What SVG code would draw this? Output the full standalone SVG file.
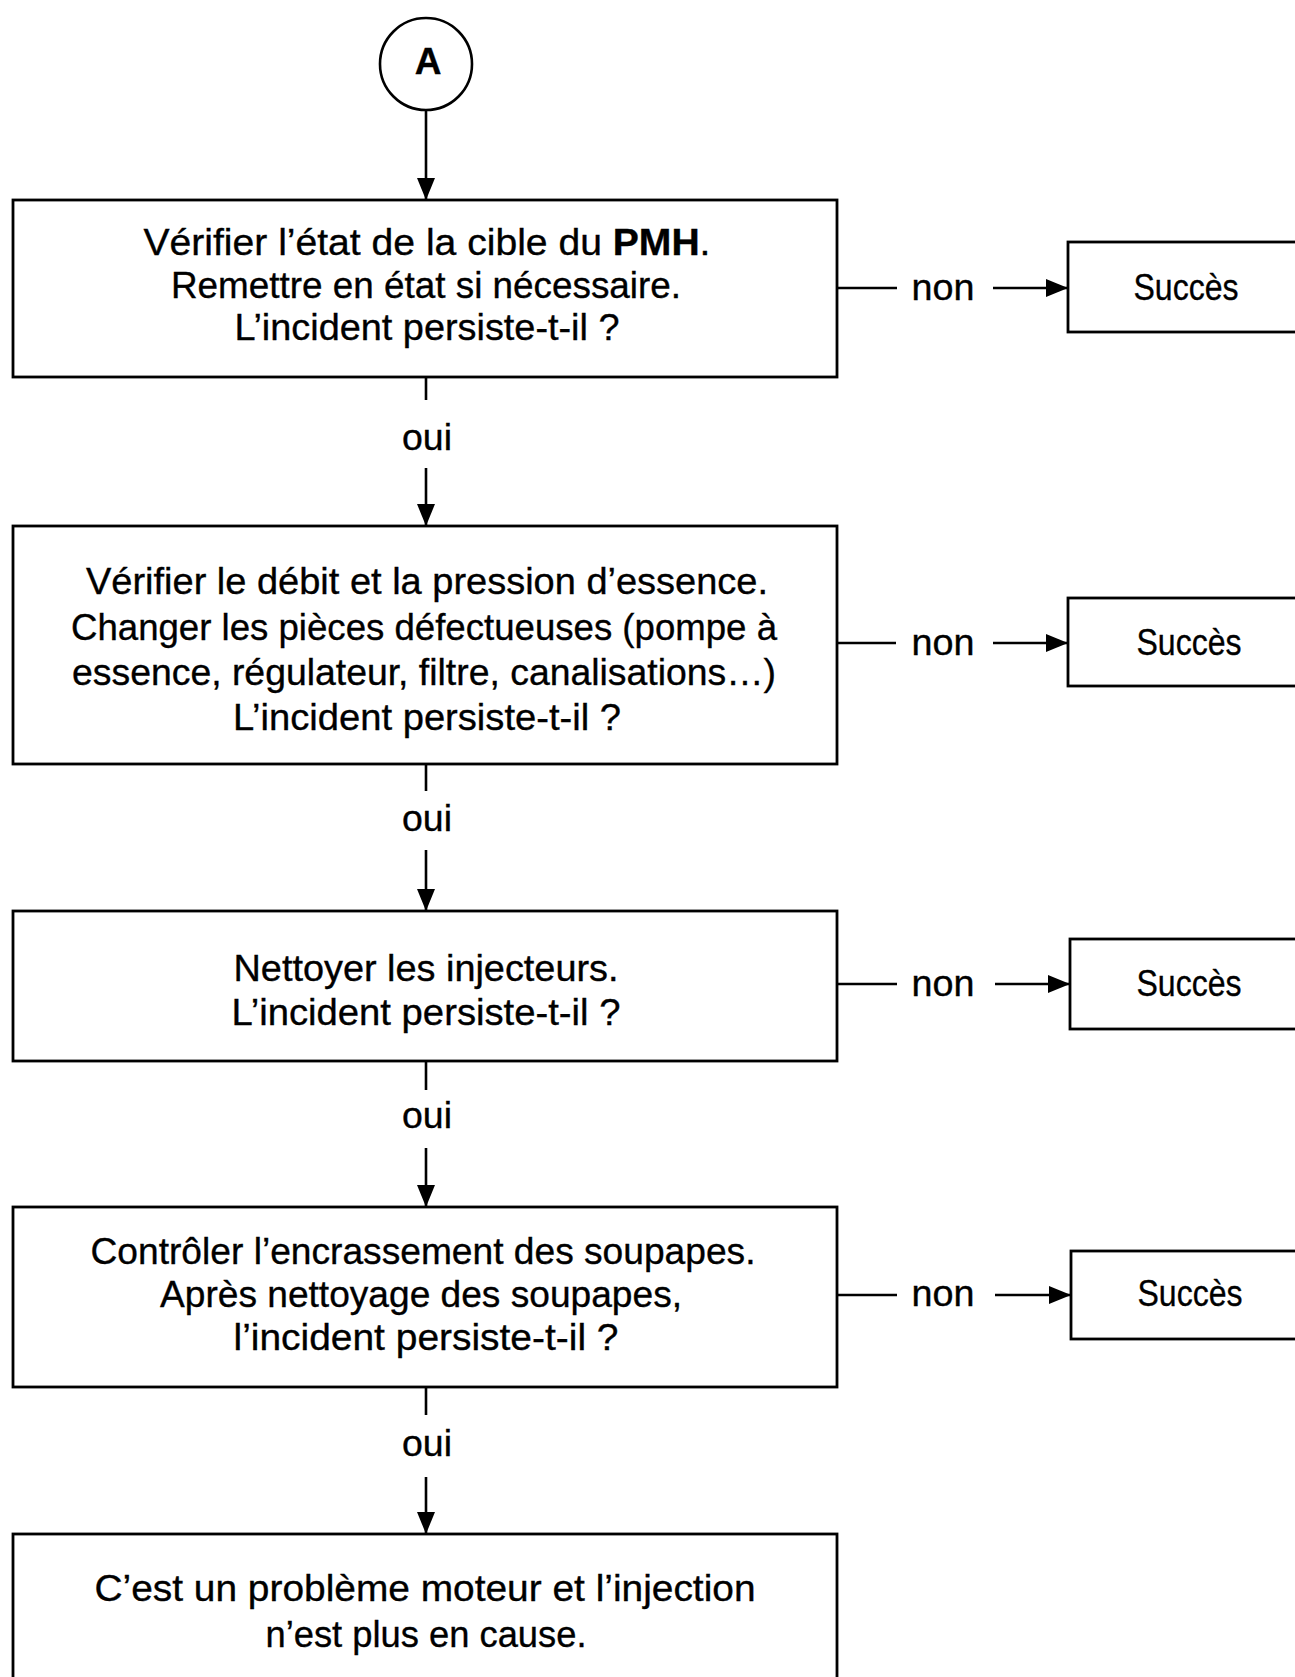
<svg xmlns="http://www.w3.org/2000/svg" width="1295" height="1677" viewBox="0 0 1295 1677">
  <style>
    .box { fill: #fff; stroke: #000; stroke-width: 2.8; }
    .wire { fill: none; stroke: #000; stroke-width: 2.6; }
    .t { font-family: "Liberation Sans", Arial, sans-serif; font-size: 37px; fill: #000; stroke: #000; stroke-width: 0.35; text-anchor: middle; }
    .lbl { font-family: "Liberation Sans", Arial, sans-serif; font-size: 37px; fill: #000; stroke: #000; stroke-width: 0.35; text-anchor: middle; }
    .b { font-weight: bold; }
  </style>
  <defs>
    <marker id="arrow" viewBox="0 0 22 18" refX="22" refY="9" markerWidth="22" markerHeight="18" markerUnits="userSpaceOnUse" orient="auto">
      <path d="M0,0 L22,9 L0,18 Z" fill="#000"/>
    </marker>
  </defs>

  <rect width="1295" height="1677" fill="#fff"/>

  <!-- connectors -->
  <g id="connectors">
    <line class="wire" x1="426" y1="110" x2="426" y2="200" marker-end="url(#arrow)"/>

    <line class="wire" x1="426" y1="377" x2="426" y2="400"/>
    <text class="lbl" x="427" y="450" textLength="50" lengthAdjust="spacingAndGlyphs">oui</text>
    <line class="wire" x1="426" y1="468" x2="426" y2="526" marker-end="url(#arrow)"/>

    <line class="wire" x1="426" y1="764" x2="426" y2="791"/>
    <text class="lbl" x="427" y="831" textLength="50" lengthAdjust="spacingAndGlyphs">oui</text>
    <line class="wire" x1="426" y1="850" x2="426" y2="911" marker-end="url(#arrow)"/>

    <line class="wire" x1="426" y1="1061" x2="426" y2="1090"/>
    <text class="lbl" x="427" y="1128" textLength="50" lengthAdjust="spacingAndGlyphs">oui</text>
    <line class="wire" x1="426" y1="1148" x2="426" y2="1207" marker-end="url(#arrow)"/>

    <line class="wire" x1="426" y1="1387" x2="426" y2="1415"/>
    <text class="lbl" x="427" y="1456" textLength="50" lengthAdjust="spacingAndGlyphs">oui</text>
    <line class="wire" x1="426" y1="1477" x2="426" y2="1534" marker-end="url(#arrow)"/>

    <line class="wire" x1="837" y1="288" x2="897" y2="288"/>
    <text class="lbl" x="943" y="300" textLength="63" lengthAdjust="spacingAndGlyphs">non</text>
    <line class="wire" x1="993" y1="288" x2="1068" y2="288" marker-end="url(#arrow)"/>

    <line class="wire" x1="837" y1="643" x2="896" y2="643"/>
    <text class="lbl" x="943" y="655" textLength="63" lengthAdjust="spacingAndGlyphs">non</text>
    <line class="wire" x1="993" y1="643" x2="1068" y2="643" marker-end="url(#arrow)"/>

    <line class="wire" x1="837" y1="984" x2="897" y2="984"/>
    <text class="lbl" x="943" y="996" textLength="63" lengthAdjust="spacingAndGlyphs">non</text>
    <line class="wire" x1="995" y1="984" x2="1070" y2="984" marker-end="url(#arrow)"/>

    <line class="wire" x1="837" y1="1295" x2="897" y2="1295"/>
    <text class="lbl" x="943" y="1306" textLength="63" lengthAdjust="spacingAndGlyphs">non</text>
    <line class="wire" x1="995" y1="1295" x2="1071" y2="1295" marker-end="url(#arrow)"/>
  </g>

  <!-- start connector -->
  <g id="start">
    <circle cx="426" cy="64" r="46" fill="#fff" stroke="#000" stroke-width="2.6"/>
    <text class="t b" x="428" y="74" font-size="30">A</text>
  </g>

  <!-- step 1 -->
  <g id="step1">
    <rect class="box" x="13" y="200" width="824" height="177"/>
    <text class="t" x="427" y="255" textLength="567" lengthAdjust="spacingAndGlyphs">Vérifier l’état de la cible du <tspan class="b">PMH</tspan>.</text>
    <text class="t" x="426" y="298" textLength="510" lengthAdjust="spacingAndGlyphs">Remettre en état si nécessaire.</text>
    <text class="t" x="427" y="340" textLength="385" lengthAdjust="spacingAndGlyphs">L’incident persiste-t-il ?</text>
  </g>
  <g id="ok1">
    <rect class="box" x="1068" y="242" width="240" height="90"/>
    <text class="lbl" x="1186" y="300" textLength="105" lengthAdjust="spacingAndGlyphs">Succès</text>
  </g>

  <!-- step 2 -->
  <g id="step2">
    <rect class="box" x="13" y="526" width="824" height="238"/>
    <text class="t" x="427" y="594" textLength="682" lengthAdjust="spacingAndGlyphs">Vérifier le débit et la pression d’essence.</text>
    <text class="t" x="424" y="640" textLength="706" lengthAdjust="spacingAndGlyphs">Changer les pièces défectueuses (pompe à</text>
    <text class="t" x="424" y="685" textLength="704" lengthAdjust="spacingAndGlyphs">essence, régulateur, filtre, canalisations…)</text>
    <text class="t" x="427" y="730" textLength="388" lengthAdjust="spacingAndGlyphs">L’incident persiste-t-il ?</text>
  </g>
  <g id="ok2">
    <rect class="box" x="1068" y="598" width="240" height="88"/>
    <text class="lbl" x="1189" y="655" textLength="105" lengthAdjust="spacingAndGlyphs">Succès</text>
  </g>

  <!-- step 3 -->
  <g id="step3">
    <rect class="box" x="13" y="911" width="824" height="150"/>
    <text class="t" x="426" y="981" textLength="385" lengthAdjust="spacingAndGlyphs">Nettoyer les injecteurs.</text>
    <text class="t" x="426" y="1025" textLength="389" lengthAdjust="spacingAndGlyphs">L’incident persiste-t-il ?</text>
  </g>
  <g id="ok3">
    <rect class="box" x="1070" y="939" width="240" height="90"/>
    <text class="lbl" x="1189" y="996" textLength="105" lengthAdjust="spacingAndGlyphs">Succès</text>
  </g>

  <!-- step 4 -->
  <g id="step4">
    <rect class="box" x="13" y="1207" width="824" height="180"/>
    <text class="t" x="423" y="1264" textLength="665" lengthAdjust="spacingAndGlyphs">Contrôler l’encrassement des soupapes.</text>
    <text class="t" x="421" y="1307" textLength="522" lengthAdjust="spacingAndGlyphs">Après nettoyage des soupapes,</text>
    <text class="t" x="426" y="1350" textLength="385" lengthAdjust="spacingAndGlyphs">l’incident persiste-t-il ?</text>
  </g>
  <g id="ok4">
    <rect class="box" x="1071" y="1251" width="240" height="88"/>
    <text class="lbl" x="1190" y="1306" textLength="105" lengthAdjust="spacingAndGlyphs">Succès</text>
  </g>

  <!-- conclusion -->
  <g id="end">
    <rect class="box" x="13" y="1534" width="824" height="170"/>
    <text class="t" x="425" y="1601" textLength="661" lengthAdjust="spacingAndGlyphs">C’est un problème moteur et l’injection</text>
    <text class="t" x="426" y="1647" textLength="321" lengthAdjust="spacingAndGlyphs">n’est plus en cause.</text>
  </g>
</svg>
